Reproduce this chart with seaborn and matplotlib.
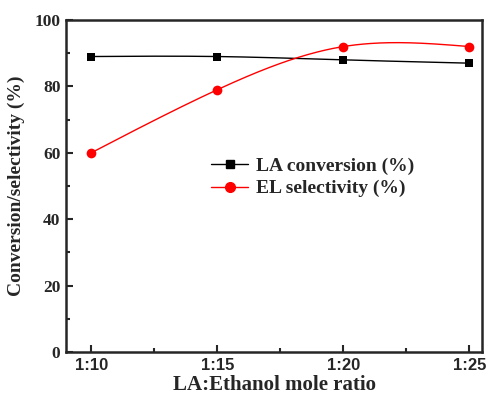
import numpy as np
import pandas as pd
import matplotlib
matplotlib.use("Agg")
import matplotlib.pyplot as plt
from matplotlib.lines import Line2D
from matplotlib.ticker import MultipleLocator
import seaborn as sns

categories = ["1:10", "1:15", "1:20", "1:25"]
la_conversion = [89, 89, 88, 87]
el_selectivity = [60, 79, 92, 92]

sns.set_style("ticks")
plt.rcParams['font.family'] = ['Liberation Serif', 'DejaVu Serif']
plt.rcParams['font.weight'] = 'bold'


def natural_spline(x, y, n=200):
    x = np.asarray(x, float); y = np.asarray(y, float)
    k = len(x); h = np.diff(x)
    A = np.zeros((k, k)); b = np.zeros(k)
    A[0, 0] = A[-1, -1] = 1
    for i in range(1, k - 1):
        A[i, i - 1] = h[i - 1]; A[i, i] = 2 * (h[i - 1] + h[i]); A[i, i + 1] = h[i]
        b[i] = 6 * ((y[i + 1] - y[i]) / h[i] - (y[i] - y[i - 1]) / h[i - 1])
    M = np.linalg.solve(A, b)
    xs = np.linspace(x[0], x[-1], n)
    idx = np.clip(np.searchsorted(x, xs) - 1, 0, k - 2)
    x0, x1 = x[idx], x[idx + 1]; hh = x1 - x0
    ys = (M[idx] * (x1 - xs) ** 3 / (6 * hh) + M[idx + 1] * (xs - x0) ** 3 / (6 * hh)
          + (y[idx] / hh - M[idx] * hh / 6) * (x1 - xs)
          + (y[idx + 1] / hh - M[idx + 1] * hh / 6) * (xs - x0))
    return xs, ys


pos = np.arange(len(categories))
fig = plt.figure(figsize=(4.89, 3.96), dpi=100)
ax = fig.add_axes([0.135, 0.111, 0.8507, 0.8385])

for vals, color, marker, ms in [(la_conversion, 'black', 's', 5.6), (el_selectivity, 'red', 'o', 7)]:
    xs, ys = natural_spline(pos, vals)
    sns.lineplot(x=xs, y=ys, ax=ax, color=color, lw=1.0, sort=False)
    sns.scatterplot(x=pos, y=vals, ax=ax, color=color, marker=marker, s=ms ** 2,
                    edgecolor=color, linewidth=0, zorder=3)

ax.set_xlim(-0.2, 3.1)
ax.set_ylim(0, 100)
ax.set_xticks(pos)
ax.set_xticklabels(categories, family=['Liberation Sans', 'DejaVu Sans'], fontweight='bold', fontsize=12)
ax.xaxis.set_minor_locator(MultipleLocator(0.5))
ax.yaxis.set_major_locator(MultipleLocator(20))
ax.yaxis.set_minor_locator(MultipleLocator(10))
for lab in ax.get_yticklabels():
    lab.set_fontsize(12.5); lab.set_fontweight('bold')
ax.tick_params(which='both', direction='in', top=False, right=False, width=1.5)
ax.tick_params(which='major', length=5, pad=4)
ax.tick_params(which='minor', length=3)
for s in ax.spines.values():
    s.set_linewidth(1.8)
    s.set_visible(True)

ax.set_xlabel("LA:Ethanol mole ratio", fontsize=15, fontweight='bold', labelpad=2)
ax.set_ylabel("Conversion/selectivity (%)", fontsize=14, fontweight='bold', labelpad=7)

handles = [Line2D([], [], color='black', lw=1.0, marker='s', ms=5.6),
           Line2D([], [], color='red', lw=1.0, marker='o', ms=7)]
ax.legend(handles, ["LA conversion (%)", "EL selectivity (%)"], frameon=False,
          loc='upper left', bbox_to_anchor=(0.33, 0.61), prop={'weight': 'bold', 'size': 14},
          handlelength=1.9, handletextpad=0.4, labelspacing=0.25, borderaxespad=0)

fig.savefig("out.png", dpi=100)
